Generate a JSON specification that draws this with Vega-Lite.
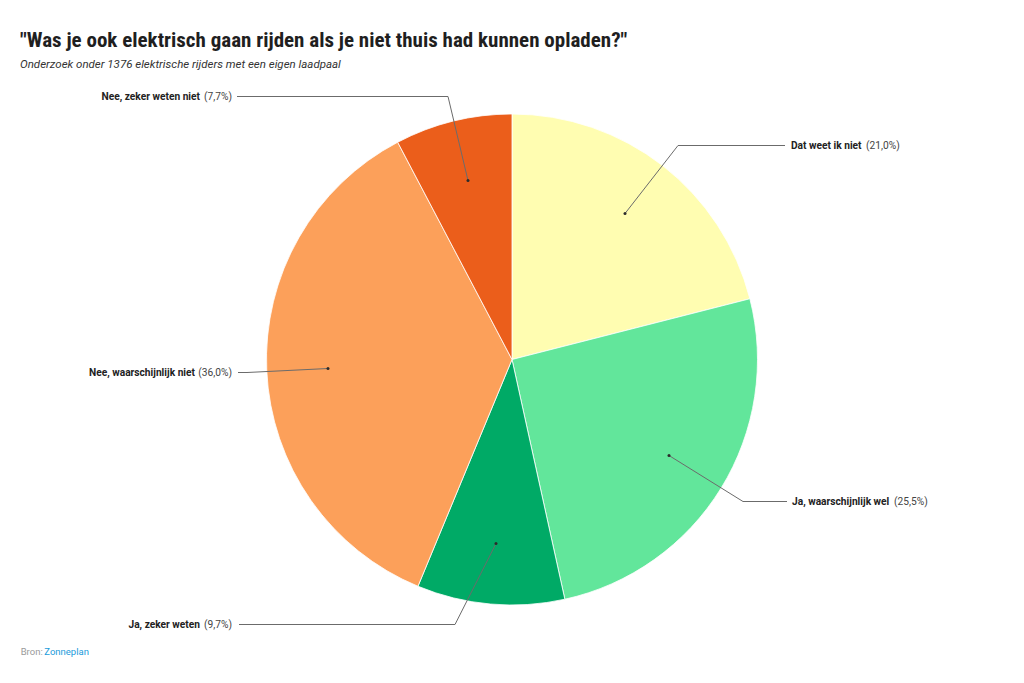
{
  "$schema": "https://vega.github.io/schema/vega-lite/v6.json",
  "width": 1024,
  "height": 559,
  "autosize": {"type": "none"},
  "padding": {"left": 0, "right": 0, "top": 80, "bottom": 44},
  "background": "white",
  "title": {
    "text": "\"Was je ook elektrisch gaan rijden als je niet thuis had kunnen opladen?\"",
    "subtitle": "Onderzoek onder 1376 elektrische rijders met een eigen laadpaal",
    "anchor": "start",
    "frame": "group",
    "dx": 20,
    "offset": 10,
    "font": "Roboto Condensed, Roboto",
    "fontSize": 21,
    "fontWeight": "bold",
    "color": "#1f1f1f",
    "subtitleFont": "Roboto",
    "subtitleFontSize": 11.5,
    "subtitleFontStyle": "italic",
    "subtitleColor": "#333333",
    "subtitlePadding": 8
  },
  "config": {"view": {"stroke": null}},
  "datasets": {
    "antwoorden": [
      {"antwoord": "Dat weet ik niet", "aandeel": 21.0},
      {"antwoord": "Ja, waarschijnlijk wel", "aandeel": 25.5},
      {"antwoord": "Ja, zeker weten", "aandeel": 9.7},
      {"antwoord": "Nee, waarschijnlijk niet", "aandeel": 36.0},
      {"antwoord": "Nee, zeker weten niet", "aandeel": 7.7}
    ],
    "labels": [
      {"antwoord": "Dat weet ik niet", "pct": "(21,0%)", "kant": "rechts", "px": 113, "py": -146, "ex": 166, "ey": -214, "lx": 273, "ly": -214, "nx": 279, "qx": 354},
      {"antwoord": "Ja, waarschijnlijk wel", "pct": "(25,5%)", "kant": "rechts", "px": 157, "py": 96, "ex": 231, "ey": 142, "lx": 275, "ly": 142, "nx": 280, "qx": 382},
      {"antwoord": "Ja, zeker weten", "pct": "(9,7%)", "kant": "links", "px": -16, "py": 184, "ex": -57, "ey": 265, "lx": -273, "ly": 265, "nx": -312, "qx": -280},
      {"antwoord": "Nee, waarschijnlijk niet", "pct": "(36,0%)", "kant": "links", "px": -184, "py": 9, "ex": -265, "ey": 13, "lx": -274, "ly": 13, "nx": -317, "qx": -280},
      {"antwoord": "Nee, zeker weten niet", "pct": "(7,7%)", "kant": "links", "px": -44, "py": -179, "ex": -64, "ey": -263, "lx": -275, "ly": -263, "nx": -312, "qx": -280}
    ],
    "bron": [
      {"bron": "Bron:", "naam": "Zonneplan"}
    ]
  },
  "layer": [
    {
      "data": {"name": "antwoorden"},
      "mark": {"type": "arc", "outerRadius": 245.5, "stroke": "white", "strokeWidth": 0.8},
      "encoding": {
        "theta": {"field": "aandeel", "type": "quantitative", "stack": true},
        "color": {
          "field": "antwoord",
          "type": "nominal",
          "scale": {
            "domain": ["Dat weet ik niet", "Ja, waarschijnlijk wel", "Ja, zeker weten", "Nee, waarschijnlijk niet", "Nee, zeker weten niet"],
            "range": ["#FFFDB1", "#62E69B", "#00AA66", "#FCA05A", "#EB5E1B"]
          },
          "legend": null
        }
      }
    },
    {
      "data": {"name": "labels"},
      "mark": {"type": "rule", "color": "#6b6b6b", "strokeWidth": 1},
      "encoding": {
        "x": {"field": "px", "type": "quantitative", "scale": {"domain": [-512, 512], "nice": false, "zero": false}, "axis": null},
        "y": {"field": "py", "type": "quantitative", "scale": {"domain": [-279.5, 279.5], "nice": false, "zero": false, "reverse": true}, "axis": null},
        "x2": {"field": "ex"},
        "y2": {"field": "ey"}
      }
    },
    {
      "data": {"name": "labels"},
      "mark": {"type": "rule", "color": "#6b6b6b", "strokeWidth": 1},
      "encoding": {
        "x": {"field": "ex", "type": "quantitative", "axis": null},
        "y": {"field": "ey", "type": "quantitative", "axis": null},
        "x2": {"field": "lx"},
        "y2": {"field": "ly"}
      }
    },
    {
      "data": {"name": "labels"},
      "mark": {"type": "point", "filled": true, "size": 9, "color": "#2b2b2b", "opacity": 1},
      "encoding": {
        "x": {"field": "px", "type": "quantitative", "axis": null},
        "y": {"field": "py", "type": "quantitative", "axis": null}
      }
    },
    {
      "data": {"name": "labels"},
      "transform": [{"filter": "datum.kant === 'rechts'"}],
      "mark": {"type": "text", "align": "left", "baseline": "middle", "font": "Roboto", "fontSize": 10.2, "fontWeight": "bold", "color": "#222222"},
      "encoding": {
        "x": {"field": "nx", "type": "quantitative", "axis": null},
        "y": {"field": "ly", "type": "quantitative", "axis": null},
        "text": {"field": "antwoord"}
      }
    },
    {
      "data": {"name": "labels"},
      "transform": [{"filter": "datum.kant === 'rechts'"}],
      "mark": {"type": "text", "align": "left", "baseline": "middle", "font": "Roboto", "fontSize": 10.2, "color": "#444444"},
      "encoding": {
        "x": {"field": "qx", "type": "quantitative", "axis": null},
        "y": {"field": "ly", "type": "quantitative", "axis": null},
        "text": {"field": "pct"}
      }
    },
    {
      "data": {"name": "labels"},
      "transform": [{"filter": "datum.kant === 'links'"}],
      "mark": {"type": "text", "align": "right", "baseline": "middle", "font": "Roboto", "fontSize": 10.2, "fontWeight": "bold", "color": "#222222"},
      "encoding": {
        "x": {"field": "nx", "type": "quantitative", "axis": null},
        "y": {"field": "ly", "type": "quantitative", "axis": null},
        "text": {"field": "antwoord"}
      }
    },
    {
      "data": {"name": "labels"},
      "transform": [{"filter": "datum.kant === 'links'"}],
      "mark": {"type": "text", "align": "right", "baseline": "middle", "font": "Roboto", "fontSize": 10.2, "color": "#444444"},
      "encoding": {
        "x": {"field": "qx", "type": "quantitative", "axis": null},
        "y": {"field": "ly", "type": "quantitative", "axis": null},
        "text": {"field": "pct"}
      }
    },
    {
      "data": {"name": "bron"},
      "mark": {"type": "text", "align": "left", "baseline": "middle", "font": "Roboto", "fontSize": 9.5, "color": "#9a9a9a", "clip": false},
      "encoding": {
        "x": {"datum": -491.3, "type": "quantitative", "axis": null},
        "y": {"datum": 292.8, "type": "quantitative", "axis": null},
        "text": {"field": "bron"}
      }
    },
    {
      "data": {"name": "bron"},
      "mark": {"type": "text", "align": "left", "baseline": "middle", "font": "Roboto", "fontSize": 9.5, "color": "#1a9bdb", "clip": false},
      "encoding": {
        "x": {"datum": -467.7, "type": "quantitative", "axis": null},
        "y": {"datum": 292.8, "type": "quantitative", "axis": null},
        "text": {"field": "naam"}
      }
    }
  ]
}
